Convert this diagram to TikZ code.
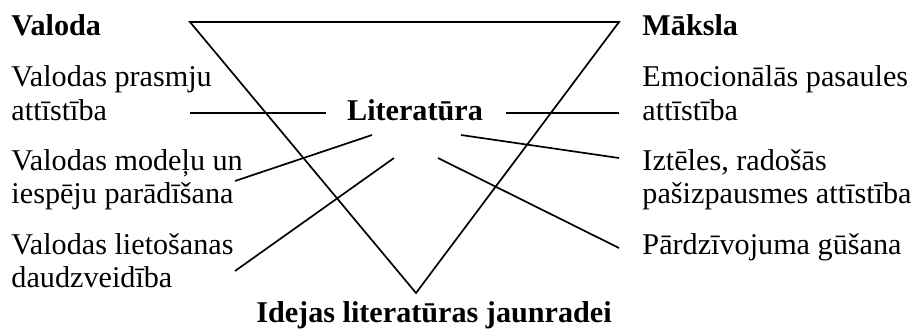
\documentclass[tikz,border=0pt]{standalone}
\usepackage{fontspec}
\setmainfont{Liberation Serif}
\tikzset{
	txt/.style = {anchor = base west, inner sep = 0pt, font = \fontsize{12.5}{14.1}\selectfont},
	head/.style = {txt, font = \fontsize{12.5}{14.1}\selectfont\bfseries},
	ln/.style = {line width = .7pt},
}

\begin{document}
\begin{tikzpicture}[x = .4142pt, y = -.4142pt]
	\useasboundingbox (0,0) rectangle (914,328);
	% triangle
	\coordinate (tl) at (190,22);
	\coordinate (tr) at (619,22);
	\coordinate (bt) at (416,293);
	\draw[ln] (tl) -- (tr) -- (bt) -- cycle;
	% middle and bottom
	\node[head, anchor = base] (lit) at (415,120) {Literatūra};
	\node[head, anchor = base] (ide) at (434,322) {Idejas literatūras jaunradei};
	% left column
	\node[head] (val) at (11,35) {Valoda};
	\node[txt] (va1) at (11,86) {Valodas prasmju};
	\node[txt] (va2) at (11,120) {attīstība};
	\node[txt] (vb1) at (11,170) {Valodas modeļu un};
	\node[txt] (vb2) at (11,203) {iespēju parādīšana};
	\node[txt] (vc1) at (11,254) {Valodas lietošanas};
	\node[txt] (vc2) at (11,287) {daudzveidība};
	% right column
	\node[head] (mak) at (642,35) {Māksla};
	\node[txt] (ma1) at (642,86) {Emocionālās pasaules};
	\node[txt] (ma2) at (642,120) {attīstība};
	\node[txt] (mb1) at (642,170) {Iztēles, radošās};
	\node[txt] (mb2) at (642,203) {pašizpausmes attīstība};
	\node[txt] (mc1) at (642,254) {Pārdzīvojuma gūšana};
	% line ends
	\coordinate (la) at (190,113);
	\coordinate (lae) at (326,113);
	\coordinate (lb) at (235,181);
	\coordinate (lbe) at (372,135);
	\coordinate (lc) at (235,271);
	\coordinate (lce) at (394,158);
	\coordinate (ra) at (619,113);
	\coordinate (rae) at (506,113);
	\coordinate (rb) at (619,158);
	\coordinate (rbe) at (461,135);
	\coordinate (rc) at (619,248);
	\coordinate (rce) at (438,158);
	\draw[ln] (la) -- (lae);
	\draw[ln] (lb) -- (lbe);
	\draw[ln] (lc) -- (lce);
	\draw[ln] (ra) -- (rae);
	\draw[ln] (rb) -- (rbe);
	\draw[ln] (rc) -- (rce);
\end{tikzpicture}
\end{document}
